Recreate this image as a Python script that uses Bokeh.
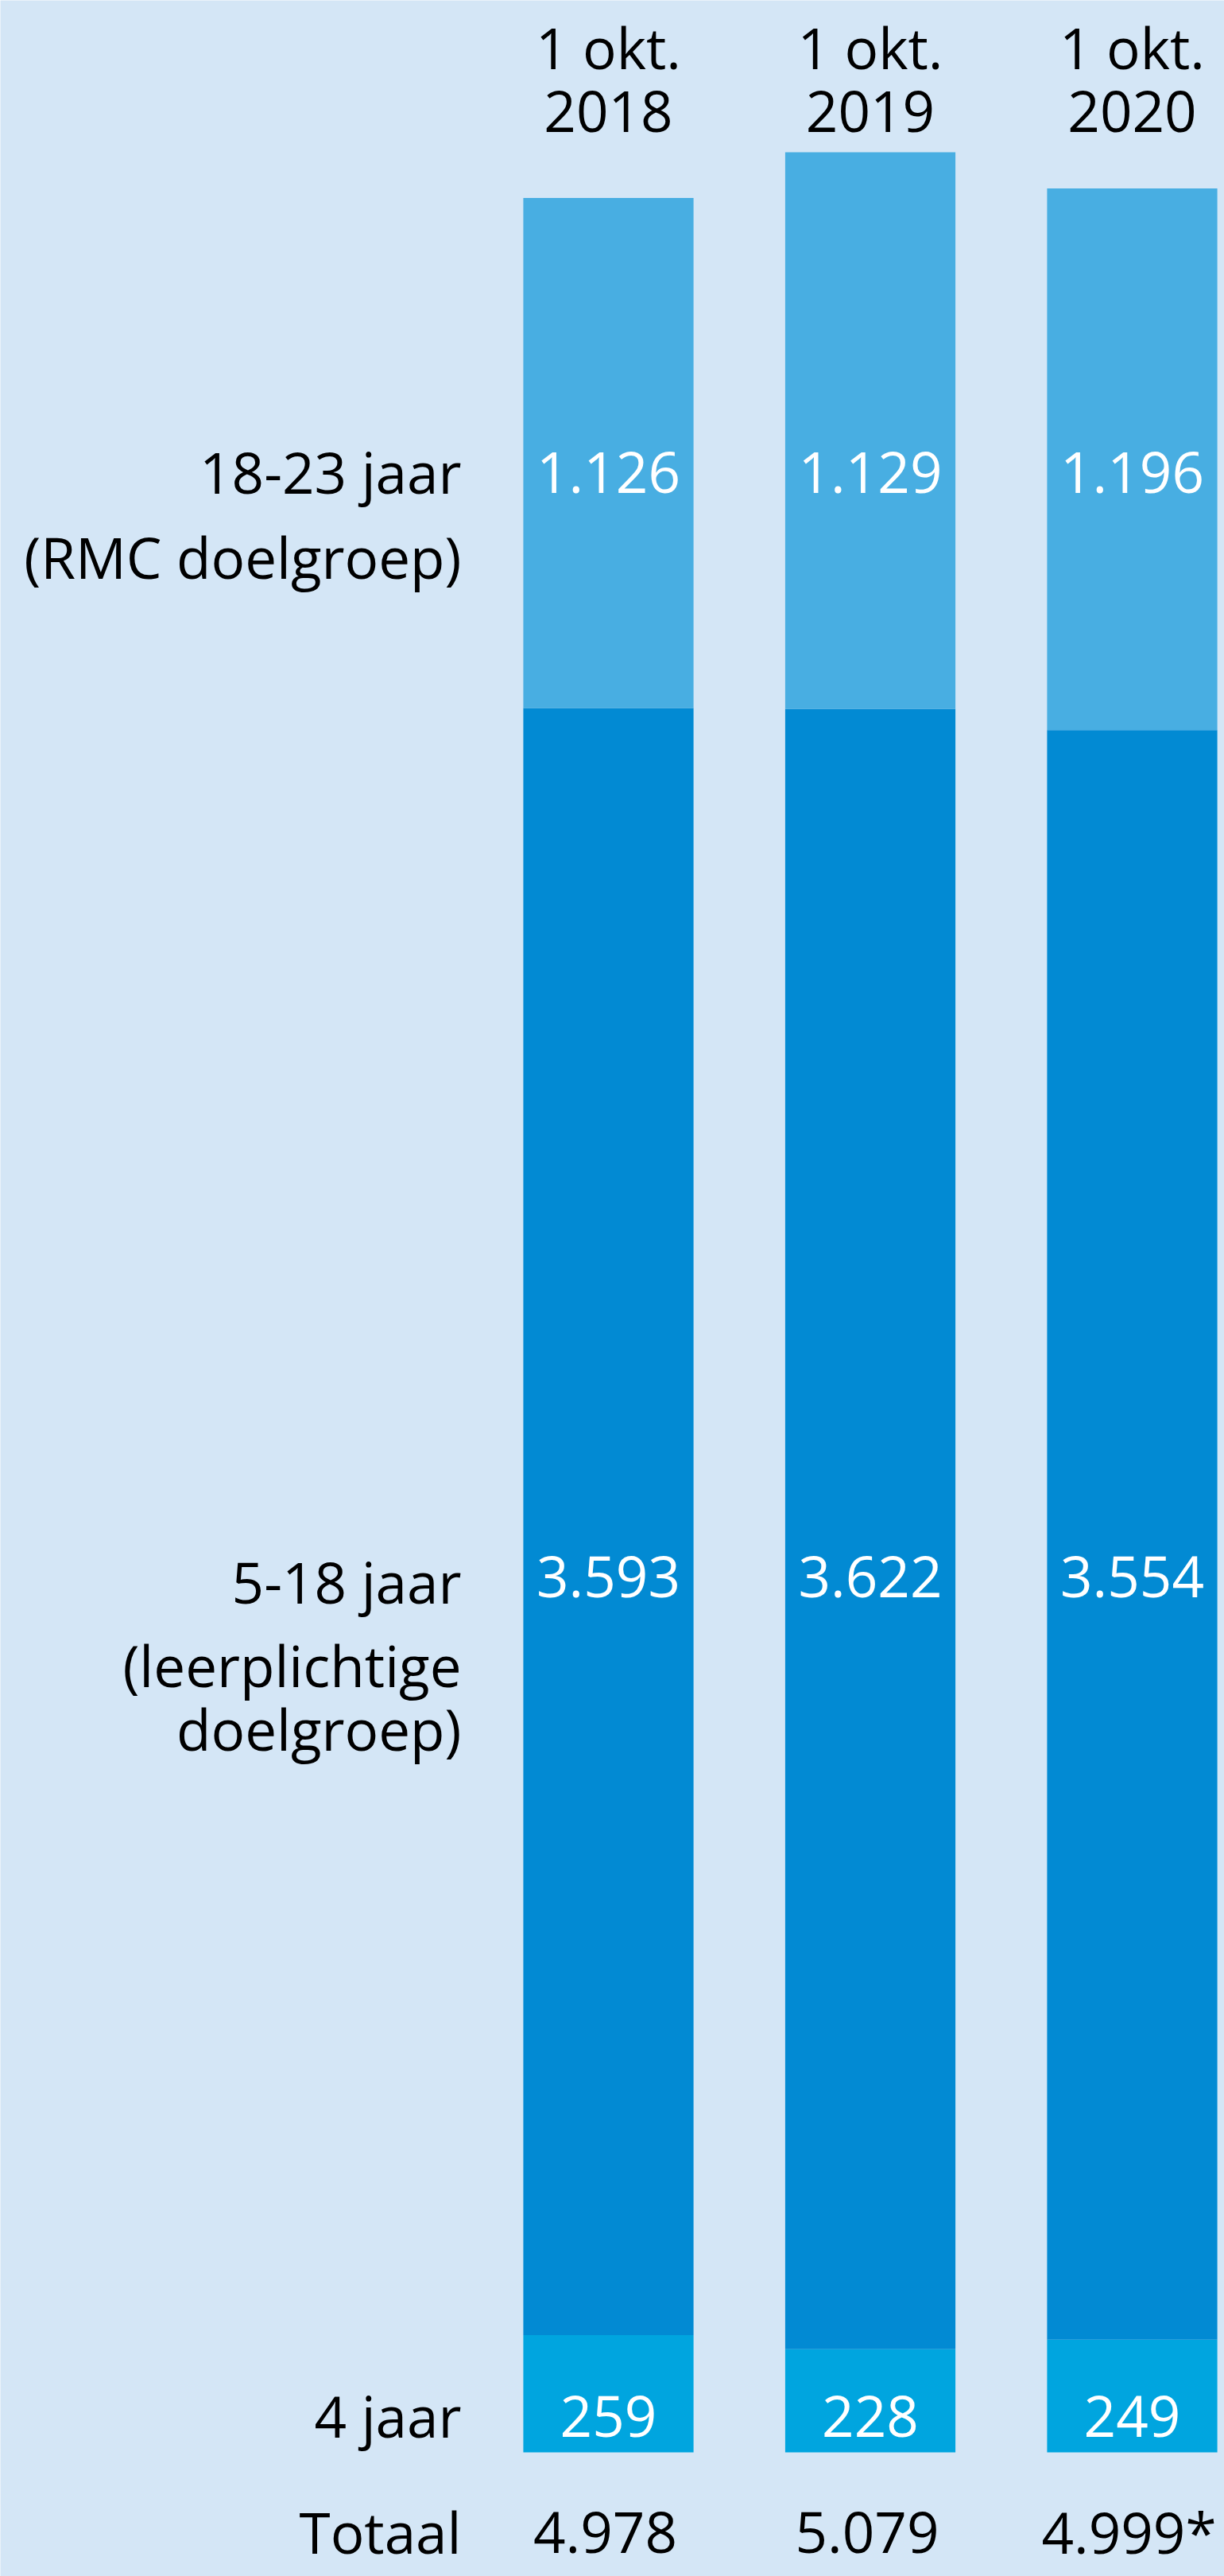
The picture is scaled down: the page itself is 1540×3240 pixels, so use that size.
from bokeh.plotting import figure
from bokeh.models import Range1d, ColumnDataSource
from bokeh.core.properties import value
from bokeh.embed import file_html
from bokeh.resources import INLINE

# ---------------- data ----------------
header_line1 = ["1 okt.", "1 okt.", "1 okt."]
header_line2 = ["2018", "2019", "2020"]
age4 = [259, 228, 249]
age5_18 = [3593, 3622, 3554]
age18_23 = [1126, 1129, 1196]
totals = [4978, 5079, 4999]
total_marks = ["", "", "*"]
rmc_label_lines = ["18-23 jaar", "(RMC doelgroep)"]
lp_label_lines = ["5-18 jaar", "(leerplichtige", "doelgroep)"]
four_label = "4 jaar"
total_label = "Totaal"

# ---------------- style ----------------
BG = "#D4E6F6"
C_4 = "#00A5DF"
C_5_18 = "#028AD3"
C_18_23 = "#48AEE2"
FONT = value("Open Sans")
FS = "71px"

W, H = 1540, 3240
PX_PER_X = 329.5
X0 = 765.0          # page x of first bar centre
Y0 = 3084.0         # page y of value 0
PX_PER_Y = 0.5696
TEXT_SHIFT = 24     # compensation for where the renderer puts the baseline


def nl(v):
    return f"{v:,}".replace(",", ".")


def ybase(page_y):
    return (Y0 - (page_y - TEXT_SHIFT)) / PX_PER_Y


x_start = -X0 / PX_PER_X
x_end = (W - X0) / PX_PER_X
y_end = Y0 / PX_PER_Y
y_start = (Y0 - H) / PX_PER_Y

p = figure(width=W, height=H, x_range=Range1d(x_start, x_end),
           y_range=Range1d(y_start, y_end), output_backend="svg",
           toolbar_location=None, min_border=0)
p.axis.visible = False
p.grid.visible = False
p.outline_line_color = None
p.background_fill_color = BG
p.border_fill_color = BG

xs = list(range(len(totals)))
mid_top = [a + b for a, b in zip(age4, age5_18)]

src = ColumnDataSource(dict(
    x=xs, zero=[0] * len(xs), age4=age4, mid_top=mid_top, totals=totals,
    h1=header_line1, h2=header_line2,
    l4=[nl(v) for v in age4], l518=[nl(v) for v in age5_18],
    l1823=[nl(v) for v in age18_23],
    ltot=[nl(v) + m for v, m in zip(totals, total_marks)],
))

BW = 0.65
p.vbar(x="x", bottom="zero", top="age4", width=BW, source=src,
       fill_color=C_4, line_color=None)
p.vbar(x="x", bottom="age4", top="mid_top", width=BW, source=src,
       fill_color=C_5_18, line_color=None)
p.vbar(x="x", bottom="mid_top", top="totals", width=BW, source=src,
       fill_color=C_18_23, line_color=None)


def col_text(field, page_y, color, x_off=0):
    p.text(x="x", y=ybase(page_y), text=field, source=src,
           text_font=FONT, text_font_size=FS, text_color=color,
           text_align="center", text_baseline="alphabetic", x_offset=x_off)


TOTAL_ROW = 3208
col_text("h1", 83, "black")
col_text("h2", 163, "black")
col_text("l1823", 617, "white")
col_text("l518", 2006, "white")
col_text("l4", 3062, "white")
col_text("ltot", TOTAL_ROW, "black", x_off=-4)

LX = (580 - X0) / PX_PER_X
left_texts = [
    (rmc_label_lines[0], 617), (rmc_label_lines[1], 724),
    (lp_label_lines[0], 2013), (lp_label_lines[1], 2118),
    (lp_label_lines[2], 2198),
    (four_label, 3062), (total_label, TOTAL_ROW),
]
p.text(x=[LX] * len(left_texts), y=[ybase(b) for _, b in left_texts],
       text=[t for t, _ in left_texts], text_font=FONT, text_font_size=FS,
       text_color="black", text_align="right", text_baseline="alphabetic")

open("out.html", "w").write(file_html(p, INLINE))
